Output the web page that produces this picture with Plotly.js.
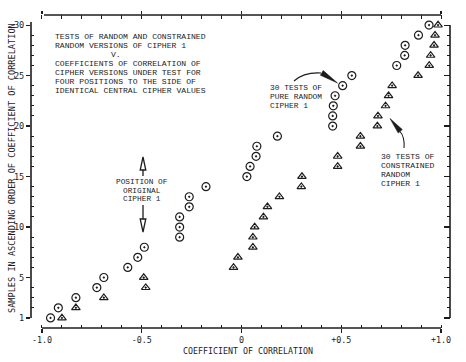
<!DOCTYPE html>
<html><head><meta charset="utf-8">
<script src="https://cdn.plot.ly/plotly-3.0.1.min.js"></script>
<style>html,body{margin:0;padding:0;background:#fff}</style>
</head><body><div id="chart" style="width:466px;height:362px"></div>
<script>
// ---- data ----
const ranks = [1,2,3,4,5,6,7,8,9,10,11,12,13,14,15,16,17,18,19,20,21,22,23,24,25,26,27,28,29,30];
const pureRandomR = [-0.957,-0.918,-0.83,-0.725,-0.69,-0.57,-0.52,-0.487,-0.31,-0.31,-0.31,-0.262,-0.262,-0.178,
  0.027,0.043,0.073,0.077,0.18,0.457,0.457,0.46,0.469,0.507,0.553,0.778,0.818,0.82,0.887,0.94];
const constrainedR = [-0.90,-0.83,-0.69,-0.48,-0.49,-0.04,-0.018,0.057,0.057,0.066,0.11,0.13,0.19,0.30,0.303,
  0.482,0.482,0.596,0.596,0.681,0.684,0.722,0.737,0.755,0.885,0.941,0.948,0.965,0.97,0.985];
const xTickVals = [-1, -0.5, 0, 0.5, 1];
const xTickText = ['-1.0', '-0.5', '0', '+0.5', '+1.0'];
const yTickVals = [1, 5, 10, 15, 20, 25, 30];
const yTickText = ['1', '5', '10', '15', '20', '25', '30'];
const titleLines = ['TESTS OF RANDOM AND CONSTRAINED','RANDOM VERSIONS OF CIPHER 1','V.',
  'COEFFICIENTS OF CORRELATION OF','CIPHER VERSIONS UNDER TEST FOR','FOUR POSITIONS TO THE SIDE OF',
  'IDENTICAL CENTRAL CIPHER VALUES'];
const pureLabel = ['30 TESTS OF','PURE RANDOM','CIPHER 1'];
const constrLabel = ['30 TESTS OF','CONSTRAINED','RANDOM','CIPHER 1'];
const origLabel = ['POSITION OF','ORIGINAL','CIPHER 1'];
const xTitle = 'COEFFICIENT OF CORRELATION';
const yTitle = 'SAMPLES IN ASCENDING ORDER OF COEFFICIENT OF CORRELATION';

// ---- layout geometry ----
const W = 466, H = 362, L = 31, R = 16, T = 15, B = 34;
const pw = W - L - R, ph = H - T - B;
const xRange = [-1.055, 1.045], yRange = [0, 31];
const ink = '#1c1c1c';
const mono = 'Liberation Mono, Courier New, monospace';
const sansMono = 'DejaVu Sans Mono, monospace';
function dx(px){ return xRange[0] + (px - L) / pw * (xRange[1] - xRange[0]); }
function dy(py){ return yRange[0] + (H - B - py) / ph * (yRange[1] - yRange[0]); }
function P(px, py){ return dx(px) + ',' + dy(py); }
function ppx(px){ return (px - L) / pw; }
function ppy(py){ return (H - B - py) / ph; }

const annotations = [];
function txt(s, px, py, anchor, size, fam, angle){
  annotations.push({text: s, xref: 'paper', yref: 'paper', x: ppx(px), y: ppy(py),
    xanchor: anchor, yanchor: 'middle', showarrow: false, textangle: angle || 0, borderpad: 0,
    font: {family: fam, size: size, color: ink}});
}
titleLines.forEach((s, i) => txt(s, s === 'V.' ? 110 : 54, 36.3 + i * 9, 'left', 8.1, mono));
pureLabel.forEach((s, i) => txt(s, 269, 87.5 + i * 9, 'left', 7.9, mono));
constrLabel.forEach((s, i) => txt(s, 380, 156 + i * 9, 'left', 8.1, mono));
origLabel.forEach((s, i) => txt(s, 142, 181.7 + i * 8.8, 'center', 7.8, mono));
txt(xTitle, 248, 351, 'center', 8.3, sansMono);
txt(yTitle, 12, 168, 'center', 8.6, sansMono, -90);

const shapes = [];
const ln = {color: ink, width: 1.6};
// axis lines
shapes.push({type: 'line', xref: 'x', yref: 'paper', x0: -1, x1: 1, y0: 0, y1: 0, line: ln});
shapes.push({type: 'line', xref: 'x', yref: 'paper', x0: -0.99, x1: 1, y0: 1, y1: 1, line: ln});
shapes.push({type: 'line', xref: 'paper', yref: 'y', x0: 0, x1: 0, y0: 1, y1: 30.3, line: ln});
shapes.push({type: 'line', xref: 'paper', yref: 'y', x0: 1, x1: 1, y0: 1, y1: 30, line: ln});
// "position of original cipher" arrows (hollow heads)
shapes.push({type: 'path', xref: 'x', yref: 'y', path: 'M' + P(143, 170) + ' L' + P(143, 176), line: {color: ink, width: 1.3}});
shapes.push({type: 'path', xref: 'x', yref: 'y', path: 'M' + P(143, 157) + ' L' + P(140.2, 170) + ' L' + P(145.8, 170) + ' Z', line: {color: ink, width: 1.3}});
shapes.push({type: 'path', xref: 'x', yref: 'y', path: 'M' + P(143, 205) + ' L' + P(143, 219), line: {color: ink, width: 1.3}});
shapes.push({type: 'path', xref: 'x', yref: 'y', path: 'M' + P(140.2, 219) + ' L' + P(145.8, 219) + ' L' + P(143, 232) + ' Z', line: {color: ink, width: 1.3}});
// curved pointer arrows (filled wedge heads)
shapes.push({type: 'path', xref: 'x', yref: 'y', path: 'M' + P(294, 81) + ' Q' + P(304, 72) + ' ' + P(321, 73), line: {color: ink, width: 1.1}});
shapes.push({type: 'path', xref: 'x', yref: 'y', path: 'M' + P(337.5, 83) + ' L' + P(323.2, 70.6) + ' L' + P(320.4, 75.2) + ' Z', fillcolor: ink, line: {color: ink, width: 0.6}});
shapes.push({type: 'path', xref: 'x', yref: 'y', path: 'M' + P(404, 148) + ' Q' + P(405, 137) + ' ' + P(400, 131.5), line: {color: ink, width: 1.1}});
shapes.push({type: 'path', xref: 'x', yref: 'y', path: 'M' + P(390, 118.5) + ' L' + P(402.3, 129.6) + ' L' + P(398.2, 133) + ' Z', fillcolor: ink, line: {color: ink, width: 0.6}});

const yMinor = [];
for (let v = 2; v <= 29; v++) if (yTickVals.indexOf(v) < 0) yMinor.push(v);

const traces = [
  {x: pureRandomR, y: ranks, mode: 'markers', type: 'scatter', name: 'Pure random cipher 1',
   marker: {symbol: 'circle-open-dot', size: 8, color: ink, line: {width: 1.2, color: ink}}, cliponaxis: false},
  {x: constrainedR, y: ranks, mode: 'markers', type: 'scatter', name: 'Constrained random cipher 1',
   marker: {symbol: 'triangle-up-open-dot', size: 7.5, color: ink, line: {width: 1.2, color: ink}}, cliponaxis: false},
  {x: [], y: [], xaxis: 'x2', yaxis: 'y', type: 'scatter', mode: 'markers', showlegend: false, hoverinfo: 'skip'},
  {x: [], y: [], xaxis: 'x', yaxis: 'y2', type: 'scatter', mode: 'markers', showlegend: false, hoverinfo: 'skip'}
];

const common = {showgrid: false, zeroline: false, showline: false, fixedrange: true, tickcolor: ink, tickwidth: 1.2};
const layout = {
  width: W, height: H, margin: {l: L, r: R, t: T, b: B, pad: 0},
  paper_bgcolor: '#fff', plot_bgcolor: '#fff', showlegend: false,
  xaxis: Object.assign({}, common, {range: xRange, tickmode: 'array', tickvals: xTickVals, ticktext: xTickText,
    ticks: 'outside', ticklen: 4, tickfont: {family: sansMono, size: 8.4, color: ink},
    minor: {dtick: 0.1, tick0: 0, ticks: 'inside', ticklen: 3, tickcolor: ink, tickwidth: 1}}),
  xaxis2: Object.assign({}, common, {range: xRange, overlaying: 'x', side: 'top', anchor: 'y',
    tickmode: 'array', tickvals: xTickVals, ticks: 'outside', ticklen: 3, showticklabels: false,
    minor: {dtick: 0.1, tick0: 0, ticks: 'inside', ticklen: 4, tickcolor: ink, tickwidth: 1}}),
  yaxis: Object.assign({}, common, {range: yRange, tickmode: 'array', tickvals: yTickVals, ticktext: yTickText,
    ticks: 'outside', ticklen: 4, tickfont: {family: sansMono, size: 8.6, color: ink},
    minor: {tickmode: 'array', tickvals: yMinor, ticks: 'inside', ticklen: 3, tickcolor: ink, tickwidth: 1}}),
  yaxis2: Object.assign({}, common, {range: yRange, overlaying: 'y', side: 'right', anchor: 'x',
    tickmode: 'array', tickvals: yTickVals, ticks: 'inside', ticklen: 6, showticklabels: false,
    minor: {tickmode: 'array', tickvals: yMinor, ticks: 'inside', ticklen: 3, tickcolor: ink, tickwidth: 1}}),
  shapes: shapes, annotations: annotations
};
Plotly.newPlot('chart', traces, layout, {displayModeBar: false, staticPlot: true});
</script></body></html>
